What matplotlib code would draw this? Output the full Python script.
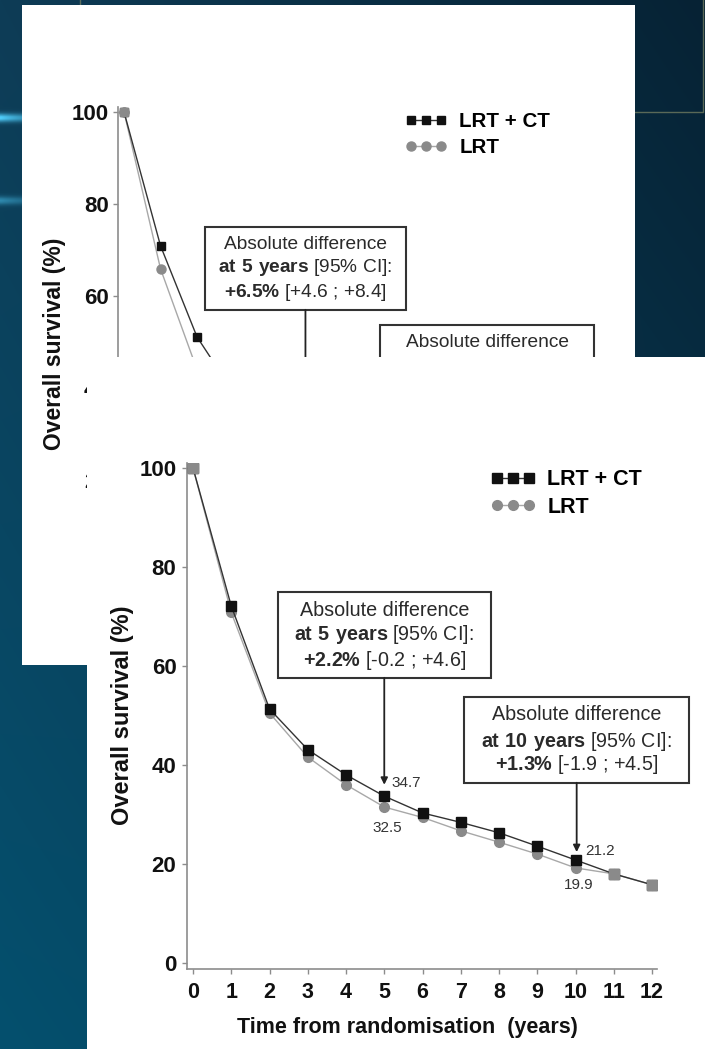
import numpy as np
import matplotlib
matplotlib.use('Agg')
import matplotlib.pyplot as plt
from matplotlib.patches import Rectangle

plt.rcParams['font.family'] = ['Liberation Sans', 'DejaVu Sans']
plt.rcParams['mathtext.fontset'] = 'custom'
plt.rcParams['mathtext.rm'] = 'Liberation Sans'
plt.rcParams['mathtext.bf'] = 'Liberation Sans:bold'

# data
years = list(range(13))
lrt_ct = [100, 72.1, 51.3, 43.1, 38.0, 33.7, 30.3, 28.4, 26.3, 23.6, 20.8, 18.0, 15.8]
lrt = [100, 70.8, 50.5, 41.6, 36.0, 31.5, 29.4, 26.7, 24.4, 22.0, 19.2, 18.0, 15.8]

# first (partly hidden) slide chart
top_years = [0, 1, 2, 3]
top_lrt_ct = [100, 70.9, 51.1, 39.0]
top_lrt = [100, 65.9, 44.0, 36.0]

y_ticks = [0, 20, 40, 60, 80, 100]
series_names = ['LRT + CT', 'LRT']

W, H = 705, 1049
fig = plt.figure(figsize=(W / 100, H / 100), dpi=100)


def px_rect(x0, y0, w, h):
    return [x0 / W, 1 - (y0 + h) / H, w / W, h / H]


# background slide
bg = fig.add_axes([0, 0, 1, 1])
bg.set_xlim(0, W)
bg.set_ylim(H, 0)
bg.axis('off')
gy, gx = np.mgrid[0:1:525j, 0:1:353j]
tl = np.array([14, 60, 86])
tr = np.array([6, 34, 52])
bl = np.array([4, 80, 110])
br = np.array([8, 60, 86])
img = (tl * ((1 - gx) * (1 - gy))[..., None] + tr * (gx * (1 - gy))[..., None]
       + bl * ((1 - gx) * gy)[..., None] + br * (gx * gy)[..., None])
for yc, amp in [(117, 1.0), (200, 0.5)]:
    band = amp * np.exp(-((gy * H - yc) / 4.0) ** 2) * np.exp(-(gx * W) / 45.0)
    img = img + band[..., None] * np.array([70, 150, 170])
img = np.clip(img / 255, 0, 1)
bg.imshow(img, extent=(0, W, H, 0), aspect='auto', interpolation='bilinear', zorder=0)
bg.plot([80, 80, 703, 703], [-5, 112, 112, -5], color='#6f7b60', lw=1, alpha=0.8, zorder=1)
bg.add_patch(Rectangle((22, 5), 613, 660, facecolor='white', edgecolor='none', zorder=3))

ax1 = fig.add_axes(px_rect(118.2, 107.4, 448.6, 470.6))
ax1.set_zorder(1)

panel2 = fig.add_axes(px_rect(87, 357, 618, 692))
panel2.set_zorder(2)
panel2.set_facecolor('white')
panel2.set_xticks([])
panel2.set_yticks([])
for s in panel2.spines.values():
    s.set_visible(False)

ax2 = fig.add_axes(px_rect(186.9, 463, 470.1, 505.9))
ax2.set_zorder(3)


def style_axes(ax, ylim_low, ypad, xpad, ysize, xsize):
    ax.patch.set_alpha(0)
    ax.set_xlim(-0.16, 12.13)
    ax.set_ylim(ylim_low, 101)
    for side in ['top', 'right']:
        ax.spines[side].set_visible(False)
    for side in ['left', 'bottom']:
        ax.spines[side].set_color('#8c8c8c')
        ax.spines[side].set_linewidth(1.2)
    ax.set_xticks(years)
    ax.set_yticks(y_ticks)
    ax.tick_params(axis='both', length=3.5, width=1, color='#8c8c8c', labelcolor='#111111')
    ax.tick_params(axis='y', labelsize=ysize, pad=ypad)
    ax.tick_params(axis='x', labelsize=xsize, pad=xpad)
    for lbl in ax.get_xticklabels() + ax.get_yticklabels():
        lbl.set_fontweight('bold')


def draw_series(ax, xs, a, b, ms):
    gray = ax.plot(xs, b, color='#a8a8a8', lw=1.0, marker='o', ms=ms + 0.5, mfc='#8a8a8a',
                   mec='#8a8a8a', label=series_names[1], zorder=3)[0]
    black = ax.plot(xs, a, color='#333333', lw=1.0, marker='s', ms=ms, mfc='#111111',
                    mec='#111111', label=series_names[0], zorder=4)[0]
    same = np.isclose(a, b)
    ax.plot(np.array(xs)[same], np.array(b)[same], ls='none', marker='s', ms=ms,
            mfc='#8a8a8a', mec='#8a8a8a', zorder=5)
    return [black, gray]


def note_box(ax, x0, x1, y0, y1, cx, lines, ys, size, tip):
    ax.add_patch(Rectangle((x0, y0), x1 - x0, y1 - y0, facecolor='white',
                           edgecolor='#333333', lw=1.5, clip_on=False, zorder=6))
    for s, yy in zip(lines, ys):
        ax.text(cx, yy, s, fontsize=size, color='#2a2a2a', ha='center', va='center',
                clip_on=False, zorder=7)
    ax.annotate('', xy=(cx, tip), xytext=(cx, y0),
                arrowprops=dict(arrowstyle='-|>', color='#222222', lw=1.3,
                                mutation_scale=10, shrinkA=0, shrinkB=0), zorder=6)


# ---- top chart (mostly hidden behind the second slide) ----
style_axes(ax1, -1.3, 3.3, 6, 16, 15)
ax1.tick_params(axis='x', labelbottom=False)  # covered in the picture anyway
h1 = draw_series(ax1, top_years, top_lrt_ct, top_lrt, 6)
ax1.legend(handles=h1, loc='upper left', bbox_to_anchor=(0.639, 0.99), frameon=False,
           borderpad=0, borderaxespad=0, handlelength=2.05, handletextpad=0.6,
           labelspacing=0.33, numpoints=3, prop={'weight': 'bold', 'size': 14.8})
note_box(ax1, 2.22, 7.73, 57.0, 75.0, 4.97,
         ['Absolute difference',
          r'$\mathbf{at\ 5\ years}$ [95% CI]:',
          r'$\mathbf{{+}6.5\%}$ [+4.6 ; +8.4]'],
         [71.3, 66.1, 60.7], 13.8, 35)
ax1.add_patch(Rectangle((7.01, 30), 12.88 - 7.01, 53.7 - 30, facecolor='white',
                        edgecolor='#333333', lw=1.5, clip_on=False, zorder=6))
ax1.text(9.95, 50.0, 'Absolute difference', fontsize=13.8, color='#2a2a2a',
         ha='center', va='center', clip_on=False, zorder=7)
fig.text(55 / W, 1 - 344 / H, 'Overall survival (%)', rotation=90, ha='center',
         va='center', fontsize=16.5, fontweight='bold', color='#111111')

# ---- bottom chart ----
style_axes(ax2, -1.2, 4, 6, 16, 15.5)
h2 = draw_series(ax2, years, lrt_ct, lrt, 6.5)
ax2.legend(handles=h2, loc='upper left', bbox_to_anchor=(0.645, 0.988), frameon=False,
           borderpad=0, borderaxespad=0, handlelength=2.1, handletextpad=0.56,
           labelspacing=0.31, numpoints=3, prop={'weight': 'bold', 'size': 15.5})
note_box(ax2, 2.222, 7.79, 57.6, 74.9, 5.0,
         ['Absolute difference',
          r'$\mathbf{at\ 5\ years}$ [95% CI]:',
          r'$\mathbf{{+}2.2\%}$ [-0.2 ; +4.6]'],
         [71.3, 66.3, 61.2], 14.2, 36.0)
note_box(ax2, 7.085, 12.97, 36.4, 53.7, 10.03,
         ['Absolute difference',
          r'$\mathbf{at\ 10\ years}$ [95% CI]:',
          r'$\mathbf{{+}1.3\%}$ [-1.9 ; +4.5]'],
         [50.1, 44.8, 40.0], 14.2, 22.4)
ax2.text(5.2, 36.4, '34.7', fontsize=11, color='#333333', ha='left', va='center')
ax2.text(5.07, 27.3, '32.5', fontsize=11, color='#333333', ha='center', va='center')
ax2.text(10.25, 22.6, '21.2', fontsize=11, color='#333333', ha='left', va='center')
ax2.text(10.07, 15.8, '19.9', fontsize=11, color='#333333', ha='center', va='center')
fig.text(122 / W, 1 - 715 / H, 'Overall survival (%)', rotation=90, ha='center',
         va='center', fontsize=17, fontweight='bold', color='#111111')
fig.text(407 / W, 1 - 1027 / H, 'Time from randomisation  (years)', ha='center',
         va='center', fontsize=15.5, fontweight='bold', color='#111111')

fig.savefig('out.png', dpi=100)
